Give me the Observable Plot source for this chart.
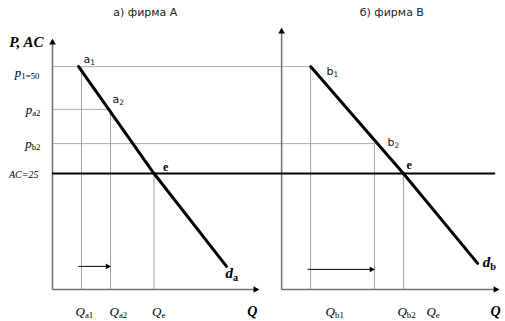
<!DOCTYPE html>
<html><head><meta charset="utf-8">
<script src="https://cdn.jsdelivr.net/npm/d3@7"></script>
<script src="https://cdn.jsdelivr.net/npm/@observablehq/plot@0.6"></script>
<style>body{margin:0;background:#fff}</style>
</head><body><div id="chart"></div>
<script>
// ---- data ----
const titles = ["а) фирма А", "б) фирма В"];
const priceLabels = ["p_1=50", "p_a2", "p_b2", "AC=25"];
const priceValues = [50, 40, 32, 25];
const qLabelsA = ["Q_a1", "Q_a2", "Q_e"];
const qValuesA = [10, 20, 35];
const pAtA = [50, 40, 25];
const qLabelsB = ["Q_b1", "Q_b2", "Q_e"];
const qValuesB = [10, 32, 42];
const pAtB = [50, 32, 25];
const pointLabelsA = ["a_1", "a_2", "e"];
const pointLabelsB = ["b_1", "b_2", "e"];
const demandAQ = [9, 35, 60];
const demandAP = [50, 25, 3.3];
const demandBQ = [10, 42, 67.6];
const demandBP = [50, 25, 4];
const shiftP = [3.3, 2.6];
const acLevel = 25;
const demandNames = ["d_a", "d_b"];

// ---- layout ----
const offB = 79;
const yMin = -2.1, yMax = 58.9, xMax = 156.2;
const topA = 56.3, topB = yMax;
const endA = 71, endB = offB + 74.8;
const acEnd = 152.8;
const serif = "Liberation Serif, Times New Roman, serif";
const sans = "DejaVu Sans, Verdana, sans-serif";
const axisGray = "#707070";

const vertA = qValuesA.map((q, i) => ({x: q, y2: pAtA[i]}));
const vertB = qValuesB.map((q, i) => ({x: offB + q, y2: pAtB[i]}));
const horiz = [
  {x2: offB + qValuesB[0], y: priceValues[0]},
  {x2: qValuesA[1], y: priceValues[1]},
  {x2: offB + qValuesB[1], y: priceValues[2]}
];
const demA = demandAQ.map((q, i) => ({x: q, y: demandAP[i]}));
const demB = demandBQ.map((q, i) => ({x: offB + q, y: demandBP[i]}));
const shifts = [
  {x1: qValuesA[0], x2: qValuesA[1], y: shiftP[0]},
  {x1: offB + qValuesB[0], x2: offB + qValuesB[1], y: shiftP[1]}
];

// one text mark per label so each can carry its own pixel offset
function label(t, x, y, dx, dy, style) {
  return Plot.text([t], {x, y, text: d => d, dx, dy, ...style});
}
const priceStyle = {textAnchor: "end", fontFamily: serif, fontSize: 13, fontStyle: "italic"};
const qStyle = {textAnchor: "start", fontFamily: serif, fontSize: 13, fontStyle: "italic"};
const ptStyle = {textAnchor: "start", fontFamily: sans, fontSize: 11, fill: "#111"};
const eStyle = {textAnchor: "start", fontFamily: serif, fontSize: 12, fontWeight: "bold"};
const dStyle = {textAnchor: "start", fontFamily: serif, fontSize: 15, fontStyle: "italic", fontWeight: "bold"};
const QStyle = {textAnchor: "middle", fontFamily: serif, fontSize: 14, fontStyle: "italic", fontWeight: "bold"};
const titleStyle = {textAnchor: "middle", fontFamily: sans, fontSize: 11, fill: "#222"};

const chart = Plot.plot({
  width: 505, height: 321,
  marginLeft: 52, marginRight: 0, marginTop: 28, marginBottom: 32,
  x: {domain: [0, xMax], axis: null},
  y: {domain: [yMin, yMax], axis: null},
  style: {background: "#fff", overflow: "visible"},
  marks: [
    // dotted price guides
    Plot.link(horiz, {x1: 0, x2: "x2", y1: "y", y2: "y", stroke: "#5a5a5a", strokeWidth: 1, strokeDasharray: "1,1"}),
    // vertical quantity guides
    Plot.ruleX([...vertA, ...vertB], {x: "x", y1: yMin, y2: "y2", stroke: "#a0a0a0", strokeWidth: 1}),
    // axes
    Plot.link([{x1: 0, y1: yMin, x2: 0, y2: topA}, {x1: offB, y1: yMin, x2: offB, y2: topB},
               {x1: 0, y1: yMin, x2: endA, y2: yMin}, {x1: offB, y1: yMin, x2: endB, y2: yMin}],
      {x1: "x1", y1: "y1", x2: "x2", y2: "y2", stroke: axisGray, strokeWidth: 1.5}),
    Plot.dot([{x: 0, y: topA}, {x: offB, y: topB}], {x: "x", y: "y", symbol: "triangle2", r: 3.2, fill: "#000", dy: 3}),
    Plot.dot([{x: endA, y: yMin}, {x: endB, y: yMin}], {x: "x", y: "y", symbol: "triangle2", r: 3.2, fill: "#000", rotate: 90, dx: -3}),
    // AC line
    Plot.ruleY([acLevel], {x1: 0, x2: acEnd, stroke: "#000", strokeWidth: 2}),
    // demand curves
    Plot.line(demA, {x: "x", y: "y", stroke: "#000", strokeWidth: 3}),
    Plot.line(demB, {x: "x", y: "y", stroke: "#000", strokeWidth: 3}),
    // shift arrows
    Plot.link(shifts, {x1: "x1", x2: "x2", y1: "y", y2: "y", stroke: "#000", strokeWidth: 1, dx: -3}),
    Plot.dot(shifts, {x: "x2", y: "y", symbol: "triangle2", r: 2.8, fill: "#000", rotate: 90, dx: -3}),
    // titles
    label(titles[0], 32, 62.6, 0, 0, titleStyle),
    label(titles[1], offB + 38, 62.6, 0, 0, titleStyle),
    // y label
    label("P, AC", 0, topA, -9, 3, {textAnchor: "end", fontFamily: serif, fontSize: 15, fontStyle: "italic", fontWeight: "bold"}),
    // price labels
    label(priceLabels[0], 0, priceValues[0], -13, 6, priceStyle),
    label(priceLabels[1], 0, priceValues[1], -12, 0, priceStyle),
    label(priceLabels[2], 0, priceValues[2], -12, 0, priceStyle),
    label(priceLabels[3], 0, priceValues[3], -14, 1, {...priceStyle, fontSize: 10}),
    // quantity labels
    label(qLabelsA[0], qValuesA[0], yMin, -6, 22, qStyle),
    label(qLabelsA[1], qValuesA[1], yMin, -1, 22, qStyle),
    label(qLabelsA[2], qValuesA[2], yMin, -2, 22, qStyle),
    label(qLabelsB[0], offB + qValuesB[0], yMin, 15, 22, qStyle),
    label(qLabelsB[1], offB + qValuesB[1], yMin, 23, 22, qStyle),
    label(qLabelsB[2], offB + qValuesB[2], yMin, 23, 22, qStyle),
    // Q axis labels
    label("Q", endA, yMin, -6, 22, QStyle),
    label("Q", endB, yMin, -3, 22, QStyle),
    // point labels
    label(pointLabelsA[0], qValuesA[0], pAtA[0], 2, -7, ptStyle),
    label(pointLabelsA[1], qValuesA[1], pAtA[1], 2, -10, ptStyle),
    label(pointLabelsB[0], offB + qValuesB[0], pAtB[0], 16, 5, ptStyle),
    label(pointLabelsB[1], offB + qValuesB[1], pAtB[1], 13, -1, ptStyle),
    label(pointLabelsA[2], qValuesA[2], acLevel, 9, -6, eStyle),
    label(pointLabelsB[2], offB + qValuesB[2], acLevel, 3, -8, eStyle),
    // demand labels
    label(demandNames[0], demandAQ[2], demandAP[2], -1, 7, dStyle),
    label(demandNames[1], offB + demandBQ[2], demandBP[2], 5, -1, dStyle)
  ]
});

// turn "main_sub" into a subscript
d3.select(chart).selectAll("text").each(function() {
  const t = this.textContent;
  if (!t.includes("_")) return;
  const [a, b] = t.split("_");
  this.textContent = "";
  d3.select(this).append("tspan").text(a);
  d3.select(this).append("tspan").text(b).attr("font-size", "68%").attr("dy", "0.3em").attr("font-style", "normal");
});

document.getElementById("chart").append(chart);
</script>
</body></html>
